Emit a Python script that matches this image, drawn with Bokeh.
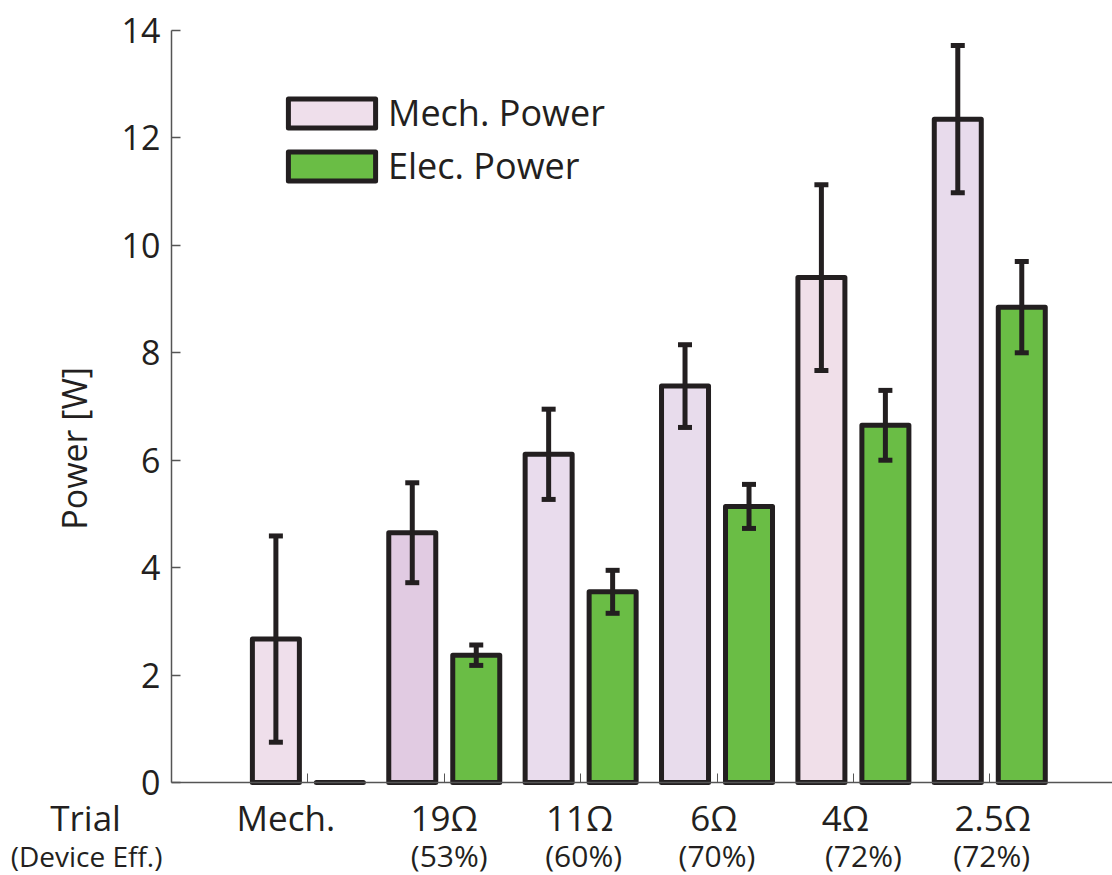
import numpy as np
from bokeh.plotting import figure
from bokeh.models import (Range1d, FixedTicker, Whisker, TeeHead, ColumnDataSource,
                          Label, Legend, LegendItem)
from bokeh.embed import file_html
from bokeh.resources import INLINE

# ---- data ----
trials = ["Mech.", "19Ω", "11Ω", "6Ω", "4Ω", "2.5Ω"]
efficiency = ["", "(53%)", "(60%)", "(70%)", "(72%)", "(72%)"]
mech_power = [2.67, 4.65, 6.11, 7.38, 9.40, 12.35]
mech_err = [1.92, 0.93, 0.84, 0.77, 1.73, 1.37]
elec_power = [0.0, 2.37, 3.55, 5.14, 6.65, 8.85]
elec_err = [0.0, 0.19, 0.40, 0.41, 0.65, 0.85]
y_ticks = [0, 2, 4, 6, 8, 10, 12, 14]

# ---- styles ----
FONT = "Open Sans"
INK = "#231f20"
GREEN = "#6abd45"
AXIS = "#555555"
mech_colors = ["#efdfeb", "#e1cbe2", "#e9dced", "#e8dcec", "#f0dfe9", "#e8dbec"]
OFFSET = 0.2346
BAR_W = 0.3446
label_dx1 = [-22, 0, -1, -3, -8, 3]
label_dx2 = [0, 5, 3, 0, 10, 2]
LINE1_Y = -0.65
LINE2_Y = -1.36

xs = np.arange(1, len(trials) + 1)
xm = xs - OFFSET
xe = xs + OFFSET

p = figure(width=1112, height=875, output_backend="svg", toolbar_location=None,
           x_range=Range1d(-1.2539, 6.8999), y_range=Range1d(-1.7314, 14.5586),
           min_border_left=0, min_border_right=0, min_border_top=0,
           min_border_bottom=0)
p.outline_line_color = None
p.xgrid.visible = False
p.ygrid.visible = False
p.background_fill_color = "white"
p.border_fill_color = "white"

mech_src = ColumnDataSource(dict(x=xm, top=mech_power, color=mech_colors))
elec_src = ColumnDataSource(dict(x=xe, top=elec_power))

r_mech = p.vbar(x="x", top="top", width=BAR_W, source=mech_src, fill_color="color",
                line_color=INK, line_width=5, line_join="round")
r_elec = p.vbar(x="x", top="top", width=BAR_W, source=elec_src, fill_color=GREEN,
                line_color=INK, line_width=5, line_join="round")

# error bars
m_err_src = ColumnDataSource(dict(
    base=xm,
    upper=[v + e for v, e in zip(mech_power, mech_err)],
    lower=[v - e for v, e in zip(mech_power, mech_err)]))
idx = [i for i, e in enumerate(elec_err) if e > 0]
e_err_src = ColumnDataSource(dict(
    base=[xe[i] for i in idx],
    upper=[elec_power[i] + elec_err[i] for i in idx],
    lower=[elec_power[i] - elec_err[i] for i in idx]))
for src in (m_err_src, e_err_src):
    w = Whisker(base="base", upper="upper", lower="lower", source=src,
                line_color=INK, line_width=5, level="overlay",
                upper_head=TeeHead(size=14, line_color=INK, line_width=5),
                lower_head=TeeHead(size=14, line_color=INK, line_width=5))
    p.add_layout(w)

# axes
ya = p.yaxis[0]
ya.fixed_location = 0
ya.bounds = (0, 14)
ya.ticker = FixedTicker(ticks=y_ticks)
ya.axis_line_color = AXIS
ya.axis_line_width = 1.5
ya.major_tick_in = 9
ya.major_tick_out = 0
ya.major_tick_line_color = AXIS
ya.major_tick_line_width = 1.5
ya.minor_tick_line_color = None
ya.major_label_standoff = 11
ya.major_label_text_font = FONT
ya.major_label_text_font_size = "34px"
ya.major_label_text_color = INK

xa = p.xaxis[0]
xa.fixed_location = 0
xa.bounds = (0, 6.8999)
xa.ticker = FixedTicker(ticks=list(xs))
xa.axis_line_color = AXIS
xa.axis_line_width = 1.5
xa.major_tick_in = 9
xa.major_tick_out = 0
xa.major_tick_line_color = AXIS
xa.major_tick_line_width = 1
xa.minor_tick_line_color = None
xa.major_label_text_color = None
xa.major_label_text_font_size = "10px"

# category labels
for i, (t, e) in enumerate(zip(trials, efficiency)):
    p.add_layout(Label(x=xs[i], y=LINE1_Y, x_offset=label_dx1[i], text=t,
                       text_font=FONT, text_font_size="35px", text_color=INK,
                       text_align="center", text_baseline="alphabetic"))
    if e:
        p.add_layout(Label(x=xs[i], y=LINE2_Y, x_offset=label_dx2[i], text=e,
                           text_font=FONT, text_font_size="30px", text_color=INK,
                           text_align="center", text_baseline="alphabetic"))
p.add_layout(Label(x=-0.63, y=LINE1_Y, text="Trial", text_font=FONT,
                   text_font_size="35px", text_color=INK, text_align="center",
                   text_baseline="alphabetic"))
p.add_layout(Label(x=-0.623, y=LINE2_Y, text="(Device Eff.)", text_font=FONT,
                   text_font_size="28px", text_color=INK, text_align="center",
                   text_baseline="alphabetic"))
p.add_layout(Label(x=-0.7186, y=6.22, text="Power [W]", angle=np.pi / 2,
                   text_font=FONT, text_font_size="34px", text_color=INK,
                   text_align="center", text_baseline="middle"))

legend = Legend(items=[LegendItem(label="Mech. Power", renderers=[r_mech], index=0),
                       LegendItem(label="Elec. Power", renderers=[r_elec], index=1)],
                location=(277, 685), padding=0, spacing=4,
                glyph_width=109, glyph_height=36, label_standoff=2,
                label_text_font=FONT, label_text_font_size="36px",
                label_text_color=INK, border_line_color=None,
                background_fill_alpha=0)
p.add_layout(legend)

open("out.html", "w").write(file_html(p, INLINE))
